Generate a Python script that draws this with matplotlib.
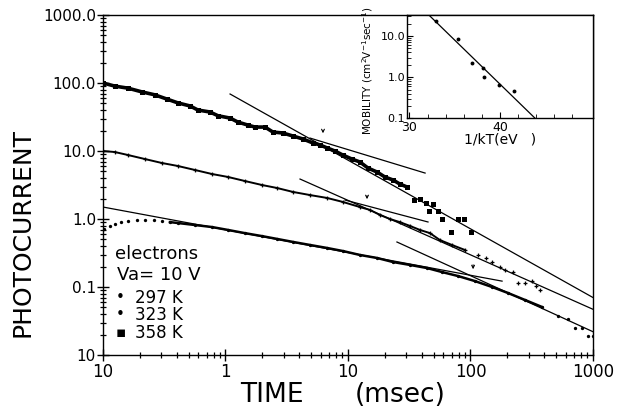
import numpy as np
import matplotlib.pyplot as plt
from matplotlib.ticker import FixedLocator, LogLocator, NullFormatter, FixedFormatter

# ------------------------------------------------------------
# DATA
# ------------------------------------------------------------
# 297 K
t_297 = [0.102, 0.114, 0.125, 0.140, 0.160, 0.190, 0.220, 0.261, 0.303, 0.352,
         0.409, 0.563, 0.776, 1.05, 1.44, 1.99, 2.63, 3.56, 4.90, 6.75,
         9.10, 12.5, 17.3, 23.3, 32.1, 44.2, 58.5, 79.1, 109, 150,
         202, 279, 384, 518, 625, 713, 813, 911, 1000]
i_297 = [0.71, 0.79, 0.84, 0.90, 0.935, 0.966, 0.966, 0.966, 0.935, 0.90,
         0.873, 0.816, 0.762, 0.69, 0.62, 0.56, 0.51, 0.46, 0.415, 0.375,
         0.338, 0.296, 0.267, 0.233, 0.211, 0.190, 0.166, 0.145, 0.122, 0.100,
         0.0817, 0.0644, 0.0508, 0.0375, 0.0338, 0.0249, 0.0249, 0.019, 0.019]

# 323 K
t_323 = [0.100, 0.125, 0.160, 0.220, 0.303, 0.409, 0.563, 0.776, 1.05, 1.44,
         1.99, 2.63, 3.56, 4.90, 6.75, 9.10, 12.5, 15.1, 18.2, 22.0,
         26.5, 32.1, 38.7, 46.7, 56.3, 70.6, 90.2, 115, 134, 150,
         174, 191, 222, 244, 279, 318, 343, 369]
i_323 = [10.0, 9.66, 8.73, 7.62, 6.66, 6.02, 5.26, 4.59, 4.15, 3.62,
         3.16, 2.86, 2.50, 2.25, 2.04, 1.78, 1.50, 1.36, 1.15, 1.00,
         0.90, 0.79, 0.69, 0.62, 0.49, 0.415, 0.35, 0.296, 0.267, 0.233,
         0.197, 0.178, 0.166, 0.115, 0.115, 0.122, 0.103, 0.090]

# 358 K
t_358 = [0.100, 0.125, 0.160, 0.208, 0.265, 0.333, 0.409, 0.513, 0.597, 0.746,
         0.869, 1.09, 1.26, 1.53, 1.74, 2.10, 2.44, 2.94, 3.56, 4.30,
         5.18, 5.90, 6.75, 7.83, 9.10, 10.8, 12.5, 14.6, 17.3, 20.0,
         23.3, 26.5, 30.3, 34.6, 38.7, 43.4, 49.4, 45.8, 54.3, 58.5,
         69.3, 79.1, 88.5, 101]
i_358 = [100, 90, 84, 74, 67, 58, 51, 46, 40, 37.5,
         33, 30.5, 26.7, 24, 22.5, 22.5, 19, 18.4, 16.6, 15,
         13.1, 12.3, 11.1, 10, 8.7, 7.6, 6.9, 5.6, 4.9, 4.15,
         3.75, 3.27, 2.96, 1.9, 1.97, 1.72, 1.66, 1.31, 1.31, 1.0,
         0.64, 1.0, 1.0, 0.64]

# fitted power-law segments: (t_start, t_end, i_start, i_end)
fit_lines = [
    (1.09, 1000, 68.9, 0.070),    # 358 K, late
    (4.90, 42.6, 15.5, 4.74),     # 358 K, early
    (4.06, 1000, 3.87, 0.047),    # 323 K, late
    (9.46, 45.0, 1.90, 0.904),    # 323 K, early
    (25.1, 1000, 0.459, 0.022),   # 297 K, late
    (0.10, 181, 1.50, 0.122),     # 297 K, early
]

# transit-time arrows: (time, top, tip)
arrows = [(6.25, 21.8, 16.6), (14.3, 2.41, 1.78), (105, 0.233, 0.166)]

# inset: mobility vs 1/kT
inv_kT = [32.9, 35.4, 36.9, 38.1, 38.3, 39.9, 41.6]
mobility = [23.2, 8.7, 2.2, 1.66, 1.02, 0.66, 0.45]
mob_fit_x = [32.0, 43.9]
mob_fit_y = [35.0, 0.1]

x_ticks = [0.1, 1, 10, 100, 1000]
x_tick_labels = ["10", "1", "10", "100", "1000"]
y_ticks = [0.01, 0.1, 1, 10, 100, 1000]
y_tick_labels = ["10", "0.1", "1.0", "10.0", "100.0", "1000.0"]

# ------------------------------------------------------------
# MAIN PLOT
# ------------------------------------------------------------
fig = plt.figure(figsize=(6.17, 4.08), dpi=100)
ax = fig.add_axes([0.1669, 0.1299, 0.7942, 0.8333])
ax.set_xscale("log")
ax.set_yscale("log")
ax.set_xlim(0.1, 1000)
ax.set_ylim(0.01, 1000)

t_297, i_297 = np.array(t_297), np.array(i_297)
t_323, i_323 = np.array(t_323), np.array(i_323)
t_358, i_358 = np.array(t_358), np.array(i_358)

m = (t_297 > 0.35) & (t_297 < 500)
ax.plot(t_297[m], i_297[m], "-", color="k", lw=1.8)
ax.plot(t_297, i_297, "o", color="k", ms=2.4, mew=0)

m = t_323 < 100
ax.plot(t_323[m], i_323[m], "-", color="k", lw=1.4)
ax.plot(t_323, i_323, "P", color="k", ms=2.8, mew=0)

m = t_358 < 32
ax.plot(t_358[m], i_358[m], "-", color="k", lw=2.6)
ax.plot(t_358, i_358, "s", color="k", ms=3.6, mew=0)

for t0, t1, y0, y1 in fit_lines:
    ax.plot([t0, t1], [y0, y1], color="k", lw=0.9)

for t, top, tip in arrows:
    ax.annotate("", xy=(t, tip), xytext=(t, top),
                arrowprops=dict(arrowstyle="->", lw=0.8, color="k",
                                mutation_scale=5))

ax.xaxis.set_major_locator(FixedLocator(x_ticks))
ax.xaxis.set_major_formatter(FixedFormatter(x_tick_labels))
ax.yaxis.set_major_locator(FixedLocator(y_ticks))
ax.yaxis.set_major_formatter(FixedFormatter(y_tick_labels))
for axis in (ax.xaxis, ax.yaxis):
    axis.set_minor_locator(LogLocator(base=10, subs=np.arange(2, 10)))
    axis.set_minor_formatter(NullFormatter())

ax.tick_params(which="major", direction="inout", length=8, width=1.0)
ax.tick_params(which="minor", direction="inout", length=5, width=0.9)
ax.tick_params(axis="x", labelsize=12, pad=2)
ax.tick_params(axis="y", labelsize=11, pad=1)
ax.tick_params(top=False, right=False)
for s in ax.spines.values():
    s.set_linewidth(1.0)

fig.text(0.036, 0.43, "PHOTOCURRENT", rotation=90, fontsize=18,
         ha="center", va="center")
fig.text(240 / 617, 0.032, "TIME", fontsize=19, ha="left", va="center")
fig.text(355 / 617, 0.032, "(msec)", fontsize=19, ha="left", va="center")

ax.text(0.0245, 0.297, "electrons", transform=ax.transAxes, fontsize=13,
        va="center")
ax.text(0.028, 0.235, "Va= 10 V", transform=ax.transAxes, fontsize=13,
        va="center")
for yy, mark, lab in [(0.168, "\u2022", "297 K"), (0.118, "\u2022", "323 K"),
                      (0.065, "\u25aa", "358 K")]:
    ax.text(0.036, yy, mark, transform=ax.transAxes, fontsize=11,
            va="center", ha="center")
    ax.text(0.066, yy, lab, transform=ax.transAxes, fontsize=12, va="center")

# ------------------------------------------------------------
# INSET
# ------------------------------------------------------------
ins = fig.add_axes([406.7 / 617, 1 - 118.3 / 408, (593 - 406.7) / 617,
                    (118.3 - 15) / 408])
ins.set_yscale("log")
ins.set_xlim(29.7, 50.3)
ins.set_ylim(0.1, 32.5)
ins.plot(inv_kT, mobility, "o", color="k", ms=2.8, mew=0)
ins.plot(mob_fit_x, mob_fit_y, color="k", lw=0.9)
ins.xaxis.set_major_locator(FixedLocator([30, 40]))
ins.xaxis.set_minor_locator(FixedLocator(np.arange(32, 50, 2)))
ins.yaxis.set_major_locator(FixedLocator([0.1, 1, 10]))
ins.yaxis.set_major_formatter(FixedFormatter(["0.1", "1.0", "10.0"]))
ins.yaxis.set_minor_locator(LogLocator(base=10, subs=np.arange(2, 10)))
ins.yaxis.set_minor_formatter(NullFormatter())
ins.tick_params(which="both", direction="in", pad=1)
ins.tick_params(axis="y", labelsize=8)
ins.tick_params(axis="x", labelsize=9, pad=2)
ins.tick_params(which="major", length=4)
ins.tick_params(which="minor", length=3)
ins.set_xlabel("1/kT(eV   )", fontsize=10, labelpad=-1)
ins.set_ylabel("MOBILITY (cm$^2$V$^{-1}$sec$^{-1}$)", fontsize=7.5)
ins.yaxis.set_label_coords(-0.17, 0.46)
for s in ins.spines.values():
    s.set_linewidth(1.0)

plt.savefig("out.png", dpi=100)
